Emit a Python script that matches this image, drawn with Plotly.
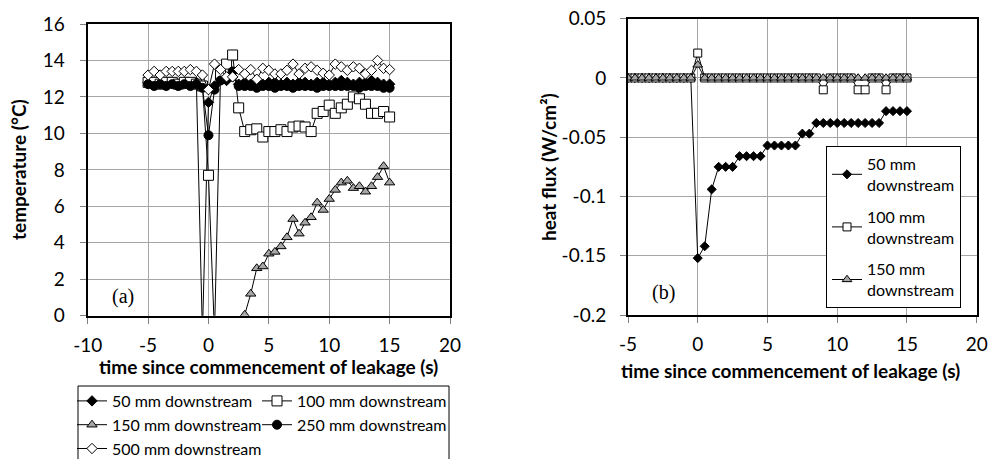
import plotly.graph_objects as go

W, H = 989, 459


def px(x):
    return x / W


def py(y):
    return 1 - y / H


# ---------------- data ----------------
time_s = [-5.0, -4.5, -4.0, -3.5, -3.0, -2.5, -2.0, -1.5, -1.0, -0.5,
          0.0, 0.5, 1.0, 1.5, 2.0, 2.5, 3.0, 3.5, 4.0, 4.5,
          5.0, 5.5, 6.0, 6.5, 7.0, 7.5, 8.0, 8.5, 9.0, 9.5,
          10.0, 10.5, 11.0, 11.5, 12.0, 12.5, 13.0, 13.5, 14.0, 14.5, 15.0]

# (a) temperature, degC
temp_50mm = [12.8, 12.7, 12.8, 12.7, 12.8, 12.7, 12.8, 12.7, 12.8, -1.0,
             11.7, 12.6, 13.1, 12.9, 13.1, 12.7, 12.8, 12.7, 12.8, 12.7,
             12.8, 12.8, 12.7, 12.8, 12.7, 12.8, 12.8, 12.7, 12.8, 12.8,
             12.7, 12.8, 12.9, 12.8, 12.7, 12.8, 12.8, 12.9, 12.8, 12.7, 12.7]
temp_100mm = [12.8, 12.8, 12.7, 12.8, 12.8, 12.7, 12.8, 12.8, 12.7, 12.6,
              7.7, -1.0, 13.2, 13.8, 14.3, 11.4, 10.1, 10.2, 10.25, 9.8,
              10.1, 10.1, 10.2, 10.1, 10.35, 10.4, 10.35, 10.1, 11.1, 11.2,
              11.55, 11.1, 11.4, 11.6, 12.0, 11.9, 11.6, 11.1, 11.1, 11.2, 10.9]
temp_150mm = [None, None, None, None, None, None, None, None, None, None,
              None, None, None, None, None, None, 0.05, 1.2, 2.6, 2.7,
              3.4, 3.5, 3.8, 4.3, 5.3, 4.5, 5.1, 5.4, 6.2, 5.8,
              6.4, 6.9, 7.3, 7.4, 7.0, 7.1, 6.8, 7.1, 7.6, 8.2, 7.3]
temp_250mm = [12.7, 12.6, 12.7, 12.6, 12.7, 12.6, 12.7, 12.6, 12.7, 12.5,
              9.9, 12.4, 12.9, 13.0, 13.4, 12.6, 12.6, 12.6, 12.5, 12.6,
              12.6, 12.5, 12.6, 12.6, 12.5, 12.6, 12.6, 12.6, 12.5, 12.6,
              12.6, 12.6, 12.6, 12.6, 12.6, 12.5, 12.6, 12.6, 12.6, 12.5, 12.5]
temp_500mm = [13.2, 13.4, 13.2, 13.4, 13.4, 13.4, 13.4, 13.5, 13.4, 13.2,
              12.4, 13.8, 13.5, 13.1, 13.1, 13.5, 13.26, 13.5, 12.97, 13.57,
              13.46, 13.26, 13.26, 13.46, 13.8, 13.26, 13.57, 13.65, 13.46, 13.3,
              13.2, 13.8, 13.65, 13.46, 13.65, 13.57, 13.26, 13.46, 14.0, 13.57, 13.5]

# (b) heat flux, W/cm2
flux_50mm = [0, 0, 0, 0, 0, 0, 0, 0, 0, 0,
             -0.152, -0.142, -0.094, -0.075, -0.075, -0.075, -0.066, -0.066, -0.066, -0.066,
             -0.057, -0.057, -0.057, -0.057, -0.057, -0.047, -0.047, -0.038, -0.038, -0.038,
             -0.038, -0.038, -0.038, -0.038, -0.038, -0.038, -0.038, -0.028, -0.028, -0.028, -0.028]
flux_100mm = [0, 0, 0, 0, 0, 0, 0, 0, 0, 0,
              0.021, 0, 0, 0, 0, 0, 0, 0, 0, 0,
              0, 0, 0, 0, 0, 0, 0, 0, -0.010, 0,
              0, 0, 0, -0.010, -0.010, 0, 0, -0.010, 0, 0, 0]
flux_150mm = [0, 0, 0, 0, 0, 0, 0, 0, 0, 0,
              0.011, 0, 0, 0, 0, 0, 0, 0, 0, 0,
              0, 0, 0, 0, 0, 0, 0, 0, 0, 0,
              0, 0, 0, 0, 0, 0, 0, 0, 0, 0, 0]

xa_ticks = [-10, -5, 0, 5, 10, 15, 20]
xa_labels = ["-10", "-5", "0", "5", "10", "15", "20"]
ya_ticks = [0, 2, 4, 6, 8, 10, 12, 14, 16]
ya_labels = ["0", "2", "4", "6", "8", "10", "12", "14", "16"]
xb_ticks = [-5, 0, 5, 10, 15, 20]
xb_labels = ["-5", "0", "5", "10", "15", "20"]
yb_ticks = [-0.2, -0.15, -0.1, -0.05, 0, 0.05]
yb_labels = ["-0.2", "-0.15", "-0.1", "-0.05", "0", "0.05"]

FONT = "Lato"
GREY = "#a6a6a6"

fig = go.Figure()


def add(y, name, symbol, fill, size, xa, ya, legend, group=None, lw=1):
    fig.add_trace(go.Scatter(
        x=time_s, y=y, name=name, mode="lines+markers",
        line=dict(color="black", width=1),
        marker=dict(symbol=symbol, color=fill, size=size,
                    line=dict(color="black", width=lw)),
        xaxis=xa, yaxis=ya, legend=legend, legendgroup=group,
        connectgaps=False,
    ))


# left chart
add(temp_50mm, "50 mm downstream", "diamond", "black", 8, "x", "y", "legend")
add(temp_100mm, "100 mm downstream", "square", "white", 10, "x", "y", "legend2")
add(temp_150mm, "150 mm downstream", "triangle-up", GREY, 9, "x", "y", "legend")
add(temp_250mm, "250 mm downstream", "circle", "black", 9, "x", "y", "legend2")
add(temp_500mm, "500 mm downstream", "diamond", "white", 8, "x", "y", "legend")

# right chart
add(flux_50mm, "50 mm<br>downstream", "diamond", "black", 7, "x2", "y2", "legend3", "b50")
add(flux_100mm, "100 mm<br>downstream", "square", "white", 8, "x2", "y2", "legend3", "b100")
add(flux_150mm, "150 mm<br>downstream", "triangle-up", GREY, 8.5, "x2", "y2", "legend3", "b150")

axis_common = dict(
    showgrid=True, gridcolor=GREY, gridwidth=1,
    showline=True, linecolor="black", linewidth=2, mirror=True,
    ticks="outside", ticklen=6, tickcolor="#808080", tickwidth=1,
    tickfont=dict(family=FONT, size=19, color="black"),
    zeroline=False, tickmode="array", automargin=False,
)

fig.update_layout(
    width=W, height=H,
    margin=dict(l=0, r=0, t=0, b=0, pad=0, autoexpand=False),
    paper_bgcolor="white", plot_bgcolor="white",
    font=dict(family=FONT, color="black"),
    xaxis=dict(domain=[px(87.7), px(450)], range=[-10, 20], anchor="y",
               tickvals=xa_ticks, ticktext=xa_labels, ticklabelstandoff=5,
               **axis_common),
    yaxis=dict(domain=[py(315.7), py(24)], range=[0, 16], anchor="x",
               tickvals=ya_ticks, ticktext=ya_labels, ticklabelstandoff=11,
               **axis_common),
    xaxis2=dict(domain=[px(628), px(976.7)], range=[-5, 20], anchor="y2",
                tickvals=xb_ticks, ticktext=xb_labels, ticklabelstandoff=5,
                **axis_common),
    yaxis2=dict(domain=[py(315), py(18.7)], range=[-0.2, 0.05], anchor="x2",
                tickvals=yb_ticks, ticktext=yb_labels, ticklabelstandoff=10,
                **axis_common),
    legend=dict(x=px(72), y=py(384), xanchor="left", yanchor="top",
                orientation="v", bgcolor="rgba(0,0,0,0)", borderwidth=0,
                font=dict(family=FONT, size=16, color="black"),
                itemwidth=30, tracegroupgap=0),
    legend2=dict(x=px(257), y=py(384), xanchor="left", yanchor="top",
                 orientation="v", bgcolor="rgba(0,0,0,0)", borderwidth=0,
                 font=dict(family=FONT, size=16, color="black"),
                 itemwidth=30, tracegroupgap=0),
    legend3=dict(x=px(826), y=py(146), xanchor="left", yanchor="top",
                 orientation="v", bgcolor="white", bordercolor="black",
                 borderwidth=1,
                 font=dict(family=FONT, size=16, color="black"),
                 itemwidth=30, tracegroupgap=8),
    showlegend=True,
)

fig.add_shape(type="rect", xref="paper", yref="paper",
              x0=px(78), x1=px(449), y0=py(475), y1=py(386),
              line=dict(color="black", width=1), fillcolor="rgba(0,0,0,0)")

ann_font_b = dict(family=FONT, size=19, color="black")
common_ann = dict(xref="paper", yref="paper", showarrow=False,
                  xanchor="center", yanchor="middle")
fig.add_annotation(text="<b>temperature (°C)</b>", x=px(18), y=py(170),
                   textangle=-90, font=ann_font_b, **common_ann)
fig.add_annotation(text="<b>heat flux (W/cm²)</b>", x=px(548), y=py(167),
                   textangle=-90, font=ann_font_b, **common_ann)
fig.add_annotation(text="<b>time since commencement of leakage (s)</b>",
                   x=px(268.8), y=py(366), font=ann_font_b, **common_ann)
fig.add_annotation(text="<b>time since commencement of leakage (s)</b>",
                   x=px(790), y=py(370), font=ann_font_b, **common_ann)
fig.add_annotation(text="(a)", x=px(123), y=py(296),
                   font=dict(family="Liberation Serif", size=20, color="black"),
                   **common_ann)
fig.add_annotation(text="(b)", x=px(663), y=py(292),
                   font=dict(family="Liberation Serif", size=20, color="black"),
                   **common_ann)

fig.write_html("out.html",
               config={"displayModeBar": False},
               post_script="document.body.style.margin='0px';"
                           "document.body.style.overflow='hidden';")
